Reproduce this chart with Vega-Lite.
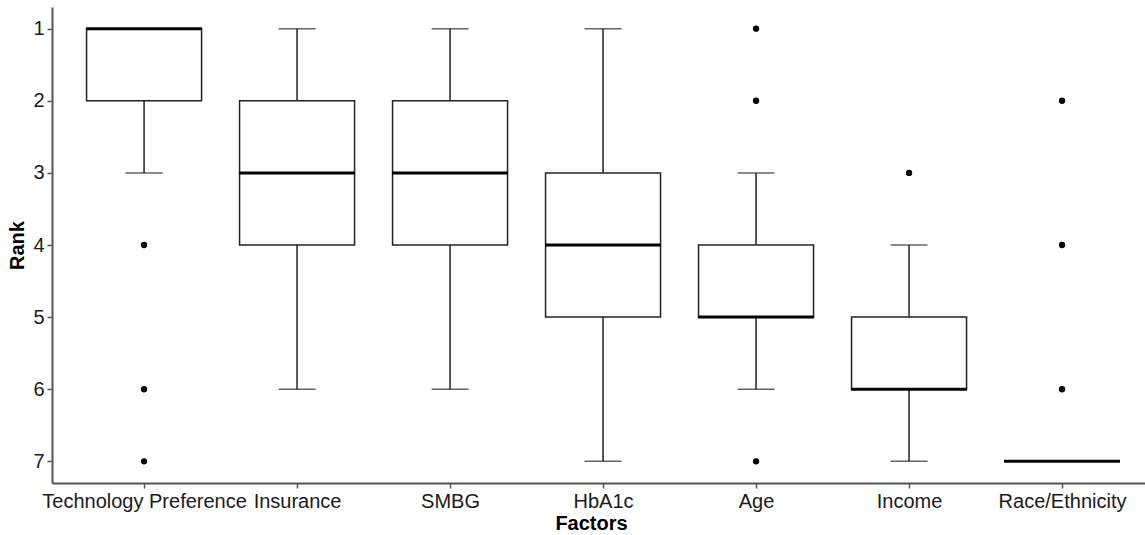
{
  "$schema": "https://vega.github.io/schema/vega-lite/v6.json",
  "autosize": "none",
  "width": 1093,
  "height": 476,
  "padding": {"left": 52, "top": 7, "right": 0, "bottom": 52},
  "background": "white",
  "config": {
    "view": {"stroke": null},
    "font": "Liberation Sans",
    "axis": {"grid": false, "domainColor": "#555", "domainWidth": 2, "tickColor": "#555", "tickWidth": 1.5, "tickSize": 5, "labelColor": "#1a1a1a", "labelFontSize": 20, "labelLimit": 0, "labelFont": "Liberation Sans", "titleFont": "Liberation Sans", "titleFontSize": 20, "titleFontWeight": "bold", "titleColor": "#000"}
  },
  "datasets": {
    "boxes": [
      {"factor": "Technology Preference", "lo": 1, "q1": 1, "median": 1, "q3": 2, "hi": 3},
      {"factor": "Insurance", "lo": 1, "q1": 2, "median": 3, "q3": 4, "hi": 6},
      {"factor": "SMBG", "lo": 1, "q1": 2, "median": 3, "q3": 4, "hi": 6},
      {"factor": "HbA1c", "lo": 1, "q1": 3, "median": 4, "q3": 5, "hi": 7},
      {"factor": "Age", "lo": 3, "q1": 4, "median": 5, "q3": 5, "hi": 6},
      {"factor": "Income", "lo": 4, "q1": 5, "median": 6, "q3": 6, "hi": 7},
      {"factor": "Race/Ethnicity", "lo": 7, "q1": 7, "median": 7, "q3": 7, "hi": 7}
    ],
    "outliers": [
      {"factor": "Technology Preference", "rank": 4},
      {"factor": "Technology Preference", "rank": 6},
      {"factor": "Technology Preference", "rank": 7},
      {"factor": "Age", "rank": 1},
      {"factor": "Age", "rank": 2},
      {"factor": "Age", "rank": 7},
      {"factor": "Income", "rank": 3},
      {"factor": "Race/Ethnicity", "rank": 2},
      {"factor": "Race/Ethnicity", "rank": 4},
      {"factor": "Race/Ethnicity", "rank": 6}
    ]
  },
  "encoding": {
    "x": {
      "field": "factor", "type": "nominal",
      "sort": ["Technology Preference", "Insurance", "SMBG", "HbA1c", "Age", "Income", "Race/Ethnicity"],
      "scale": {"type": "point", "padding": 0.572, "align": 0.526},
      "axis": {"title": "Factors", "labelAngle": 0, "labelPadding": 3, "titlePadding": 2, "titleX": 539}
    }
  },
  "layer": [
    {
      "data": {"name": "boxes"},
      "mark": {"type": "rule", "color": "#222", "strokeWidth": 1.5},
      "encoding": {
        "y": {"field": "lo", "type": "quantitative", "scale": {"domain": [0.7, 7.3], "reverse": true, "nice": false, "zero": false},
          "axis": {"title": "Rank", "values": [1, 2, 3, 4, 5, 6, 7], "format": "d", "labelPadding": 3, "titlePadding": 5}},
        "y2": {"field": "hi"}
      }
    },
    {
      "data": {"name": "boxes"},
      "mark": {"type": "tick", "color": "#222", "size": 37, "thickness": 1.5},
      "encoding": {"y": {"field": "lo", "type": "quantitative"}}
    },
    {
      "data": {"name": "boxes"},
      "mark": {"type": "tick", "color": "#222", "size": 37, "thickness": 1.5},
      "encoding": {"y": {"field": "hi", "type": "quantitative"}}
    },
    {
      "data": {"name": "boxes"},
      "mark": {"type": "bar", "fill": "white", "stroke": "#222", "strokeWidth": 1.5, "size": 115},
      "encoding": {"y": {"field": "q1", "type": "quantitative"}, "y2": {"field": "q3"}}
    },
    {
      "data": {"name": "boxes"},
      "mark": {"type": "tick", "color": "#000", "opacity": 1, "size": 116, "thickness": 3},
      "encoding": {"y": {"field": "median", "type": "quantitative"}}
    },
    {
      "data": {"name": "outliers"},
      "mark": {"type": "circle", "color": "#000", "opacity": 1, "size": 40},
      "encoding": {"y": {"field": "rank", "type": "quantitative"}}
    }
  ]
}
